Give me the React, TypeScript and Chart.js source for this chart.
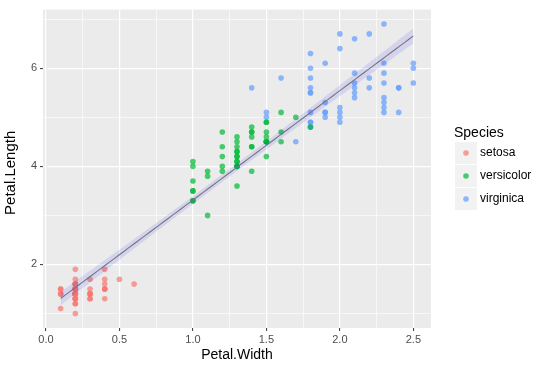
import React, { useEffect, useRef } from 'react';
import { Chart, registerables } from 'chart.js';

Chart.register(...registerables);

// Iris data: Petal.Width (x) and Petal.Length (y) per species
const setosaWidth = [0.2,0.2,0.2,0.2,0.2,0.4,0.3,0.2,0.2,0.1,0.2,0.2,0.1,0.1,0.2,0.4,0.4,0.3,0.3,0.3,0.2,0.4,0.2,0.5,0.2,0.2,0.4,0.2,0.2,0.2,0.2,0.4,0.1,0.2,0.2,0.2,0.2,0.1,0.2,0.2,0.3,0.3,0.2,0.6,0.4,0.3,0.2,0.2,0.2,0.2];
const setosaLength = [1.4,1.4,1.3,1.5,1.4,1.7,1.4,1.5,1.4,1.5,1.5,1.6,1.4,1.1,1.2,1.5,1.3,1.4,1.7,1.5,1.7,1.5,1.0,1.7,1.9,1.6,1.6,1.5,1.4,1.6,1.6,1.5,1.5,1.4,1.5,1.2,1.3,1.4,1.3,1.5,1.3,1.3,1.3,1.6,1.9,1.4,1.6,1.4,1.5,1.4];
const versicolorWidth = [1.4,1.5,1.5,1.3,1.5,1.3,1.6,1.0,1.3,1.4,1.0,1.5,1.0,1.4,1.3,1.4,1.5,1.0,1.5,1.1,1.8,1.3,1.5,1.2,1.3,1.4,1.4,1.7,1.5,1.0,1.1,1.0,1.2,1.6,1.5,1.6,1.5,1.3,1.3,1.3,1.2,1.4,1.2,1.0,1.3,1.2,1.3,1.3,1.1,1.3];
const versicolorLength = [4.7,4.5,4.9,4.0,4.6,4.5,4.7,3.3,4.6,3.9,3.5,4.2,4.0,4.7,3.6,4.4,4.5,4.1,4.5,3.9,4.8,4.0,4.9,4.7,4.3,4.4,4.8,5.0,4.5,3.5,3.8,3.7,3.9,5.1,4.5,4.5,4.7,4.4,4.1,4.0,4.4,4.6,4.0,3.3,4.2,4.2,4.2,4.3,3.0,4.1];
const virginicaWidth = [2.5,1.9,2.1,1.8,2.2,2.1,1.7,1.8,1.8,2.5,2.0,1.9,2.1,2.0,2.4,2.3,1.8,2.2,2.3,1.5,2.3,2.0,2.0,1.8,2.1,1.8,1.8,1.8,2.1,1.6,1.9,2.0,2.2,1.5,1.4,2.3,2.4,1.8,1.8,2.1,2.4,2.3,1.9,2.3,2.5,2.3,1.9,2.0,2.3,1.8];
const virginicaLength = [6.0,5.1,5.9,5.6,5.8,6.6,4.5,6.3,5.8,6.1,5.1,5.3,5.5,5.0,5.1,5.3,5.5,6.7,6.9,5.0,5.7,4.9,6.7,4.9,5.7,6.0,4.8,4.9,5.6,5.8,6.1,6.4,5.6,5.1,5.6,6.1,5.6,5.5,4.8,5.4,5.6,5.1,5.1,5.9,5.7,5.2,5.0,5.2,5.4,5.1];

const speciesNames = ['setosa', 'versicolor', 'virginica'];
const speciesColors = ['rgba(248,118,109,0.7)', 'rgba(0,186,56,0.7)', 'rgba(97,156,255,0.7)'];

const xMajorTicks = [0, 0.5, 1, 1.5, 2, 2.5];
const xMinorTicks = [0.25, 0.75, 1.25, 1.75, 2.25];
const yMajorTicks = [2, 4, 6];
const yMinorTicks = [1, 3, 5, 7];

const X_MIN = -0.02, X_MAX = 2.62, Y_MIN = 0.705, Y_MAX = 7.195;
const T_QUANTILE = 1.976; // t(0.975, df=148)
const FIT_POINTS = 80;

const FONT = '"Liberation Sans", Arial, Helvetica, sans-serif';

function toPoints(xs: number[], ys: number[]) {
  return xs.map((x, i) => ({ x, y: ys[i] }));
}

function linearFit() {
  const xs = [...setosaWidth, ...versicolorWidth, ...virginicaWidth];
  const ys = [...setosaLength, ...versicolorLength, ...virginicaLength];
  const n = xs.length;
  const mx = xs.reduce((a, b) => a + b, 0) / n;
  const my = ys.reduce((a, b) => a + b, 0) / n;
  let sxx = 0, sxy = 0;
  for (let i = 0; i < n; i++) { sxx += (xs[i] - mx) ** 2; sxy += (xs[i] - mx) * (ys[i] - my); }
  const b = sxy / sxx;
  const a = my - b * mx;
  let rss = 0;
  for (let i = 0; i < n; i++) rss += (ys[i] - a - b * xs[i]) ** 2;
  const s = Math.sqrt(rss / (n - 2));
  const lo = Math.min(...xs), hi = Math.max(...xs);
  const fit: { x: number; y: number }[] = [];
  const upper: { x: number; y: number }[] = [];
  const lower: { x: number; y: number }[] = [];
  for (let k = 0; k < FIT_POINTS; k++) {
    const x = lo + ((hi - lo) * k) / (FIT_POINTS - 1);
    const y = a + b * x;
    const se = s * Math.sqrt(1 / n + (x - mx) ** 2 / sxx);
    fit.push({ x, y });
    upper.push({ x, y: y + T_QUANTILE * se });
    lower.push({ x, y: y - T_QUANTILE * se });
  }
  return { fit, upper, lower };
}

const near = (arr: number[], v: number) => arr.some((t) => Math.abs(t - v) < 1e-6);

const panelPlugin = {
  id: 'panel',
  beforeDraw(chart: any) {
    const { ctx, chartArea: ca } = chart;
    ctx.save();
    ctx.fillStyle = '#EBEBEB';
    ctx.fillRect(ca.left, ca.top, ca.right - ca.left, ca.bottom - ca.top);
    ctx.restore();
  },
  afterDraw(chart: any) {
    const { ctx, chartArea: ca } = chart;
    ctx.save();
    // y axis title
    ctx.save();
    ctx.translate(11, (ca.top + ca.bottom) / 2 + 4);
    ctx.rotate(-Math.PI / 2);
    ctx.fillStyle = '#000000';
    ctx.font = `15px ${FONT}`;
    ctx.textAlign = 'center';
    ctx.textBaseline = 'middle';
    ctx.fillText('Petal.Length', 0, 0);
    ctx.restore();
    // legend
    ctx.fillStyle = '#000000';
    ctx.font = `14px ${FONT}`;
    ctx.textBaseline = 'alphabetic';
    ctx.textAlign = 'left';
    ctx.fillText('Species', 454, 137);
    speciesNames.forEach((name, i) => {
      const y0 = 142 + i * 23;
      ctx.fillStyle = '#F2F2F2';
      ctx.fillRect(455, y0, 22, 22);
      ctx.fillStyle = speciesColors[i];
      ctx.beginPath();
      ctx.arc(466, y0 + 11, 2.8, 0, Math.PI * 2);
      ctx.fill();
      ctx.fillStyle = '#000000';
      ctx.font = `12px ${FONT}`;
      ctx.textBaseline = 'middle';
      ctx.fillText(name, 480, y0 + 11);
      ctx.textBaseline = 'alphabetic';
    });
    ctx.restore();
  },
};

export default function App() {
  const ref = useRef<HTMLCanvasElement | null>(null);
  useEffect(() => {
    if (!ref.current) return;
    const { fit, upper, lower } = linearFit();
    const pointDatasets = [
      toPoints(setosaWidth, setosaLength),
      toPoints(versicolorWidth, versicolorLength),
      toPoints(virginicaWidth, virginicaLength),
    ].map((data, i) => ({
      type: 'scatter' as const,
      label: speciesNames[i],
      data,
      backgroundColor: speciesColors[i],
      borderWidth: 0,
      pointRadius: 2.8,
      pointHoverRadius: 2.8,
      order: 5 + i,
    }));
    const gridCommon = (major: number[]) => ({
      color: '#FFFFFF',
      lineWidth: (c: any) => (c.tick && near(major, c.tick.value) ? 1.2 : 0.6),
      tickColor: (c: any) => (c.tick && near(major, c.tick.value) ? '#333333' : 'rgba(0,0,0,0)'),
      tickWidth: 1,
      tickLength: 3,
      drawTicks: true,
    });
    const chart = new Chart(ref.current, {
      type: 'scatter',
      data: {
        datasets: [
          {
            type: 'line',
            label: 'fit',
            data: fit,
            borderColor: '#767676',
            borderWidth: 1.1,
            pointRadius: 0,
            fill: false,
            order: 0,
          } as any,
          {
            type: 'line',
            label: 'upper',
            data: upper,
            borderWidth: 0,
            borderColor: 'rgba(0,0,0,0)',
            pointRadius: 0,
            fill: false,
            order: 2,
          } as any,
          {
            type: 'line',
            label: 'lower',
            data: lower,
            borderWidth: 0,
            borderColor: 'rgba(0,0,0,0)',
            backgroundColor: 'rgba(0,0,255,0.1)',
            pointRadius: 0,
            fill: '-1',
            order: 1,
          } as any,
          ...pointDatasets,
        ],
      },
      options: {
        animation: false,
        responsive: false,
        devicePixelRatio: 1,
        layout: { padding: { left: 0, top: 7, right: 117, bottom: 0 } },
        plugins: { legend: { display: false }, tooltip: { enabled: false } },
        scales: {
          x: {
            type: 'linear',
            min: X_MIN,
            max: X_MAX,
            afterBuildTicks: (scale: any) => {
              scale.ticks = [...xMajorTicks, ...xMinorTicks].sort((a, b) => a - b).map((v) => ({ value: v }));
            },
            afterFit: (scale: any) => { scale.height = 40; },
            ticks: {
              autoSkip: false,
              maxRotation: 0,
              padding: 2,
              color: '#4D4D4D',
              font: { family: FONT, size: 11 },
              callback: (v: any) => (near(xMajorTicks, Number(v)) ? Number(v).toFixed(1) : ''),
            },
            grid: gridCommon(xMajorTicks),
            border: { display: false },
            title: {
              display: true,
              text: 'Petal.Width',
              color: '#000000',
              font: { family: FONT, size: 14 },
              padding: { top: 0, bottom: 4.5 },
            },
          },
          y: {
            type: 'linear',
            min: Y_MIN,
            max: Y_MAX,
            afterBuildTicks: (scale: any) => {
              scale.ticks = [...yMajorTicks, ...yMinorTicks].sort((a, b) => a - b).map((v) => ({ value: v }));
            },
            afterFit: (scale: any) => { scale.width = 43; },
            ticks: {
              autoSkip: false,
              padding: 3,
              color: '#4D4D4D',
              font: { family: FONT, size: 11 },
              callback: (v: any) => (near(yMajorTicks, Number(v)) ? String(Number(v)) : ''),
            },
            grid: gridCommon(yMajorTicks),
            border: { display: false },
            title: { display: false },
          },
        },
      },
      plugins: [panelPlugin],
    } as any);
    return () => chart.destroy();
  }, []);
  return (
    <div style={{ position: 'fixed', left: 0, top: 0, width: 548, height: 368, background: '#FFFFFF' }}>
      <canvas ref={ref} width={548} height={368} style={{ display: 'block', width: 548, height: 368 }} />
    </div>
  );
}
